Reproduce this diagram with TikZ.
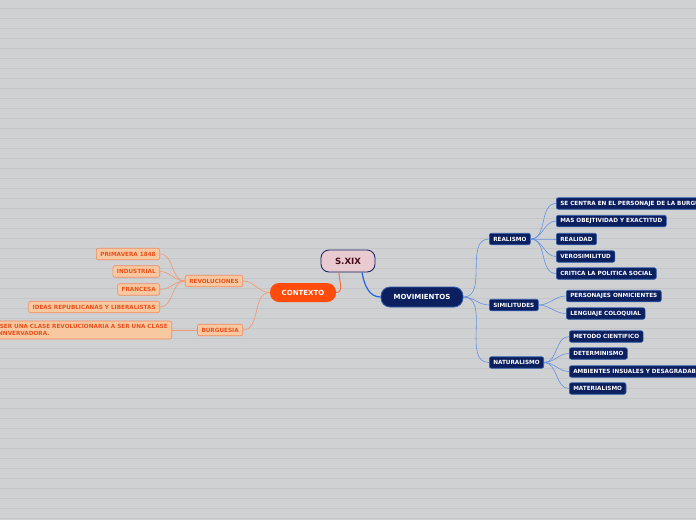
\documentclass[tikz,border=0pt]{standalone}
\usepackage{fontspec}
\setmainfont{DejaVu Sans}
\usepackage{xcolor}
\definecolor{bggray}{RGB}{208,209,211}
\definecolor{rulegray}{RGB}{197,198,201}
\definecolor{navy}{RGB}{12,31,94}
\definecolor{navyedge}{RGB}{50,95,175}
\definecolor{linkblue}{RGB}{35,100,225}
\definecolor{twigblue}{RGB}{100,145,225}
\definecolor{rootpink}{RGB}{233,202,208}
\definecolor{rootink}{RGB}{70,10,25}
\definecolor{ctxred}{RGB}{255,75,12}
\definecolor{peach}{RGB}{248,200,160}
\definecolor{peachedge}{RGB}{240,140,100}
\definecolor{peachink}{RGB}{232,80,28}
\definecolor{twigorange}{RGB}{242,150,115}
\usetikzlibrary{positioning}

\begin{document}
\begin{tikzpicture}[x=1pt,y=-1pt,
  mainbox/.style={rounded corners=9pt,font=\bfseries\fontsize{7}{8}\selectfont,inner sep=2pt},
  topic/.style={mainbox,draw=navy,fill=rootpink,text=rootink,line width=0.8pt,
    minimum width=54pt,minimum height=22pt,rounded corners=8pt,
    font=\bfseries\fontsize{8.6}{10}\selectfont},
  ctxbox/.style={mainbox,fill=ctxred,text=white,minimum width=66pt,minimum height=19pt},
  movbox/.style={mainbox,draw=navyedge,fill=navy,text=white,line width=0.8pt,
    minimum width=82pt,minimum height=20pt},
  leaf/.style={rounded corners=2pt,font=\bfseries\fontsize{5.7}{6.7}\selectfont,
    minimum height=11.5pt,inner xsep=4pt,inner ysep=1.5pt,line width=0.6pt},
  bleaf/.style={leaf,draw=navyedge,fill=navy,text=white},
  oleaf/.style={leaf,draw=peachedge,fill=peach,text=peachink},
  blink/.style={linkblue,line width=1.2pt},
  btwig/.style={twigblue,line width=0.6pt},
  olink/.style={ctxred!80,line width=1pt},
  otwig/.style={twigorange,line width=0.6pt}]
  % background
  \useasboundingbox (0,0) rectangle (696,520);
  \clip (0,0) rectangle (696,520);
  \fill[bggray] (0,0) rectangle (696,520);
  \foreach \y in {8.5,18.5,...,518.5}
    \draw[rulegray,line width=0.6pt] (0,\y) -- (696,\y);
  % centre
  \node[topic](root) at (348,261){S.XIX};
  \node[ctxbox](ctx) at (303,292.5){CONTEXTO};
  \node[movbox](mov) at (422,297){MOVIMIENTOS};
  % movimientos
  \node[bleaf,anchor=west](rea) at (489,239){REALISMO};
  \node[bleaf,anchor=west](sim) at (489,305){SIMILITUDES};
  \node[bleaf,anchor=west](nat) at (489,362.5){NATURALISMO};
  \node[bleaf,anchor=west](rea1) at (556,203.5){SE CENTRA EN EL PERSONAJE DE LA BURGUESIA};
  \node[bleaf,anchor=west](rea2) at (556,221){MAS OBEJTIVIDAD Y EXACTITUD};
  \node[bleaf,anchor=west](rea3) at (556,239){REALIDAD};
  \node[bleaf,anchor=west](rea4) at (556,256.5){VEROSIMILITUD};
  \node[bleaf,anchor=west](rea5) at (556,273.5){CRITICA LA POLITICA SOCIAL};
  \node[bleaf,anchor=west](sim1) at (566,296){PERSONAJES ONMICIENTES};
  \node[bleaf,anchor=west](sim2) at (566,313.5){LENGUAJE COLOQUIAL};
  \node[bleaf,anchor=west](nat1) at (569,336.5){METODO CIENTIFICO};
  \node[bleaf,anchor=west](nat2) at (569,353.5){DETERMINISMO};
  \node[bleaf,anchor=west](nat3) at (569,371.5){AMBIENTES INSUALES Y DESAGRADABLES};
  \node[bleaf,anchor=west](nat4) at (569,388.5){MATERIALISMO};
  % contexto
  \node[oleaf,anchor=east](rev) at (243,281){REVOLUCIONES};
  \node[oleaf,anchor=east](bur) at (243,330){BURGUESIA};
  \node[oleaf,anchor=east](rev1) at (160,254){PRIMAVERA 1848};
  \node[oleaf,anchor=east](rev2) at (160,271.5){INDUSTRIAL};
  \node[oleaf,anchor=east](rev3) at (160,289.5){FRANCESA};
  \node[oleaf,anchor=east](rev4) at (160,307){IDEAS REPUBLICANAS Y LIBERALISTAS};
  \node[oleaf,anchor=east,align=left,minimum height=18pt](bur1) at (172,330)
    {DE SER UNA CLASE REVOLUCIONARIA A SER UNA CLASE\\CONNVERVADORA.};
  % links
  \draw[blink]([xshift=14pt]root.south) to[out=-80,in=180](mov.west);
  \draw[olink]([xshift=-9pt]root.south) to[out=-90,in=0](ctx.east);
  \draw[btwig](mov.east) to[out=0,in=180](rea.west);
  \draw[btwig](mov.east) to[out=0,in=180](sim.west);
  \draw[btwig](mov.east) to[out=0,in=180](nat.west);
  \draw[btwig](rea.east) to[out=0,in=180](rea1.west);
  \draw[btwig](rea.east) to[out=0,in=180](rea2.west);
  \draw[btwig](rea.east) to[out=0,in=180](rea3.west);
  \draw[btwig](rea.east) to[out=0,in=180](rea4.west);
  \draw[btwig](rea.east) to[out=0,in=180](rea5.west);
  \draw[btwig](sim.east) to[out=0,in=180](sim1.west);
  \draw[btwig](sim.east) to[out=0,in=180](sim2.west);
  \draw[btwig](nat.east) to[out=0,in=180](nat1.west);
  \draw[btwig](nat.east) to[out=0,in=180](nat2.west);
  \draw[btwig](nat.east) to[out=0,in=180](nat3.west);
  \draw[btwig](nat.east) to[out=0,in=180](nat4.west);
  \draw[otwig](ctx.west) to[out=180,in=0](rev.east);
  \draw[otwig](ctx.west) to[out=180,in=0](bur.east);
  \draw[otwig](rev.west) to[out=180,in=0](rev1.east);
  \draw[otwig](rev.west) to[out=180,in=0](rev2.east);
  \draw[otwig](rev.west) to[out=180,in=0](rev3.east);
  \draw[otwig](rev.west) to[out=180,in=0](rev4.east);
  \draw[otwig](bur.west) -- (bur1.east);
\end{tikzpicture}
\end{document}
